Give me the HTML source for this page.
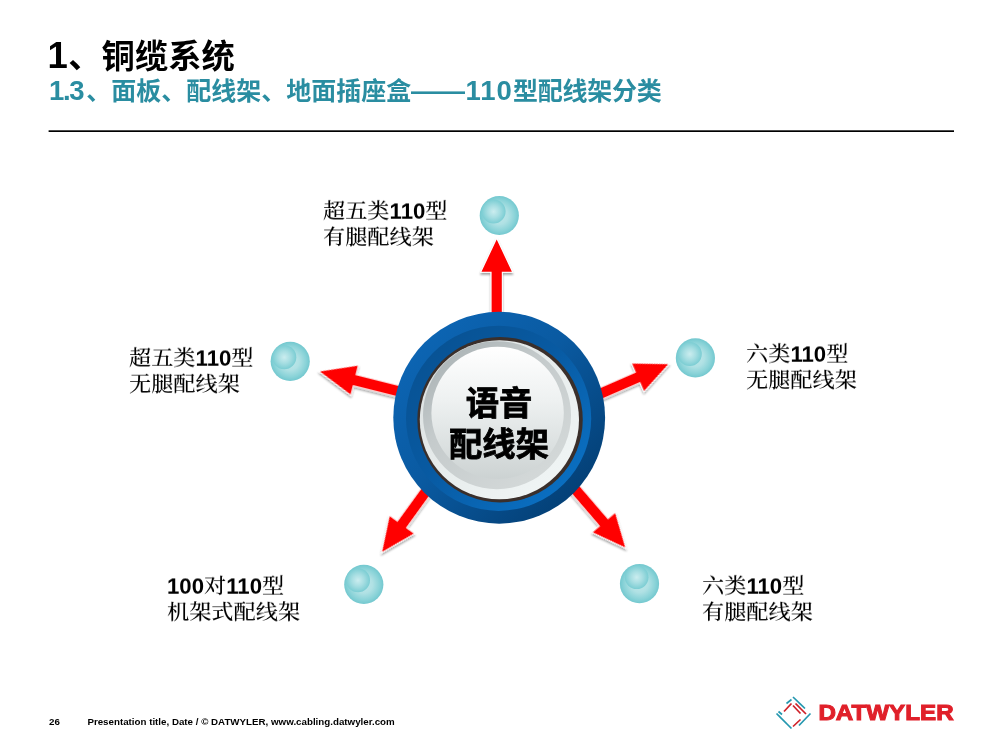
<!DOCTYPE html>
<html lang="zh-CN">
<head>
<meta charset="utf-8">
<title>1、铜缆系统</title>
<style>
html,body{margin:0;padding:0;background:#fff;}
body{width:1000px;height:750px;position:relative;overflow:hidden;font-family:"Liberation Sans","Noto Sans CJK SC",sans-serif;color:#000;}
.abs{position:absolute;white-space:nowrap;will-change:transform;}
#title{left:50px;top:32.2px;font-size:33.3px;line-height:48px;font-weight:bold;color:#000;}
#title .n{display:inline-block;font-size:36.5px;line-height:48px;width:20.7px;margin-left:-2.4px;}
#subtitle{left:48.6px;top:72.9px;font-size:25px;line-height:36px;font-weight:bold;color:#2a8da1;}
#subtitle .n{font-size:27.5px;letter-spacing:-1.4px;margin-right:3.2px;}
#subtitle .m{font-size:27.5px;letter-spacing:1.0px;margin-left:0.7px;}
#subtitle .e{letter-spacing:-0.25px;}
#subtitle .d{display:inline-block;transform:scaleX(1.08);transform-origin:0 50%;margin-right:3.6px;}
.lbl{font-family:"Liberation Sans","Noto Serif CJK SC",serif;font-weight:500;font-size:22.2px;line-height:29px;color:#000;transform:scaleY(0.9);transform-origin:0 0;}
.lbl b{font-family:"Liberation Sans",sans-serif;font-weight:bold;display:inline-block;position:relative;top:0.5px;transform:scaleY(1.111);transform-origin:0 76%;}
#center{left:399.3px;top:383.8px;width:200px;text-align:center;font-size:33.3px;line-height:40.5px;font-weight:bold;color:#000;-webkit-text-stroke:0.8px #000;}
#foot{left:48.5px;top:714.5px;font-size:9.76px;line-height:14px;font-weight:bold;color:#000;}
#foot span{display:inline-block;}
#gfx{position:absolute;left:0;top:0;}
</style>
</head>
<body>
<svg id="gfx" width="1000" height="750" viewBox="0 0 1000 750">
  <defs>
    <linearGradient id="gOuter" x1="0.15" y1="0.15" x2="0.85" y2="0.85">
      <stop offset="0" stop-color="#0c64b2"/>
      <stop offset="0.45" stop-color="#0a5aa1"/>
      <stop offset="1" stop-color="#044178"/>
    </linearGradient>
    <linearGradient id="gMid" x1="0.15" y1="0.15" x2="0.85" y2="0.85">
      <stop offset="0" stop-color="#085395"/>
      <stop offset="0.45" stop-color="#085aa2"/>
      <stop offset="1" stop-color="#0a6ec0"/>
    </linearGradient>
    <linearGradient id="gRim" x1="0.15" y1="0.15" x2="0.85" y2="0.85">
      <stop offset="0" stop-color="#dde2e2"/>
      <stop offset="0.5" stop-color="#e8eded"/>
      <stop offset="1" stop-color="#eff4f4"/>
    </linearGradient>
    <linearGradient id="gGrey" x1="0.2" y1="0.1" x2="0.8" y2="0.9">
      <stop offset="0" stop-color="#afb7b9"/>
      <stop offset="0.35" stop-color="#c4cacb"/>
      <stop offset="1" stop-color="#d3d8d8"/>
    </linearGradient>
    <linearGradient id="gFace" x1="0.5" y1="0" x2="0.5" y2="1">
      <stop offset="0" stop-color="#ffffff"/>
      <stop offset="0.4" stop-color="#eef1f1"/>
      <stop offset="0.75" stop-color="#dbe0e0"/>
      <stop offset="1" stop-color="#ccd2d2"/>
    </linearGradient>
    <radialGradient id="gBub" cx="0.5" cy="0.5" r="0.5">
      <stop offset="0" stop-color="#c0e8ea"/>
      <stop offset="0.45" stop-color="#b0e1e4"/>
      <stop offset="0.8" stop-color="#8ad3d8"/>
      <stop offset="1" stop-color="#73c8cf"/>
    </radialGradient>
    <radialGradient id="gBubIn" cx="0.5" cy="0.5" r="0.5">
      <stop offset="0" stop-color="#cbedef"/>
      <stop offset="0.5" stop-color="#a7dee2"/>
      <stop offset="1" stop-color="#7bcdd3"/>
    </radialGradient>
    <filter id="sh" x="-30%" y="-30%" width="160%" height="160%">
      <feGaussianBlur in="SourceAlpha" stdDeviation="1.2"/>
      <feOffset dx="0" dy="1.5" result="o"/>
      <feComponentTransfer><feFuncA type="linear" slope="0.38"/></feComponentTransfer>
      <feMerge><feMergeNode/><feMergeNode in="SourceGraphic"/></feMerge>
    </filter>
  </defs>

  <!-- rule -->
  <rect x="48.6" y="130.3" width="905.4" height="1.7" fill="#000"/>

  <!-- arrows -->
  <g filter="url(#sh)" fill="#ff0000" stroke="#ffffff" stroke-width="2" paint-order="stroke" stroke-linejoin="miter">
    <path d="M0,0 L15.2,32.4 L5.1,32.4 L5.1,84 L-5.1,84 L-5.1,32.4 L-15.2,32.4 Z" transform="translate(496.7,239.4) rotate(0)"/>
    <path d="M0,0 L14.8,35.3 L5.2,35.3 L5.2,88 L-5.2,88 L-5.2,35.3 L-14.8,35.3 Z" transform="translate(320,371.5) rotate(-75.9)"/>
    <path d="M0,0 L14.9,32.7 L5.2,32.7 L5.2,84 L-5.2,84 L-5.2,32.7 L-14.9,32.7 Z" transform="translate(668.2,364.2) rotate(66.5)"/>
    <path d="M0,0 L14.8,33.3 L5.2,33.3 L5.2,84 L-5.2,84 L-5.2,33.3 L-14.8,33.3 Z" transform="translate(382.2,551.8) rotate(-144.1)"/>
    <path d="M0,0 L14.7,32.6 L5.2,32.6 L5.2,84 L-5.2,84 L-5.2,32.6 L-14.7,32.6 Z" transform="translate(625.2,547.4) rotate(139.3)"/>
  </g>

  <!-- centre button -->
  <circle cx="499.2" cy="417.75" r="105.9" fill="url(#gOuter)"/>
  <circle cx="498.6" cy="418.3" r="92.6" fill="url(#gMid)"/>
  <circle cx="500.05" cy="419.7" r="82.7" fill="#3a2f2b"/>
  <circle cx="499.4" cy="419.75" r="79.6" fill="url(#gRim)"/>
  <circle cx="497" cy="415.2" r="74" fill="url(#gGrey)"/>
  <circle cx="497.6" cy="412.9" r="66.2" fill="url(#gFace)"/>

  <!-- bubbles -->
  <g>
    <circle cx="499.3" cy="215.5" r="19.6" fill="url(#gBub)"/>
    <circle cx="493.6" cy="211.6" r="12" fill="url(#gBubIn)"/>
    <circle cx="290.2" cy="361.3" r="19.6" fill="url(#gBub)"/>
    <circle cx="284.3" cy="357.3" r="12" fill="url(#gBubIn)"/>
    <circle cx="695.4" cy="357.9" r="19.6" fill="url(#gBub)"/>
    <circle cx="689.8" cy="354" r="12" fill="url(#gBubIn)"/>
    <circle cx="363.8" cy="584.4" r="19.6" fill="url(#gBub)"/>
    <circle cx="358" cy="580.3" r="12" fill="url(#gBubIn)"/>
    <circle cx="639.5" cy="583.7" r="19.6" fill="url(#gBub)"/>
    <circle cx="636.7" cy="577.3" r="11.8" fill="url(#gBubIn)"/>
  </g>

  <!-- logo -->
  <g fill="none" stroke-width="1.7" stroke-linecap="butt">
    <g stroke="#2497af">
      <path d="M793,697 L805,708.5"/>
      <path d="M786.5,703.5 L791.5,699.5"/>
      <path d="M778.5,711.5 L782,714.5"/>
      <path d="M776.5,713.5 L791.5,728.5"/>
      <path d="M799,725.5 L810.5,713.5"/>
    </g>
    <g stroke="#cf2028">
      <path d="M784,711.5 L791.5,703.5"/>
      <path d="M793,705.5 L800.5,713.5"/>
      <path d="M795.5,703.5 L806,714"/>
      <path d="M793,726.5 L800.5,719.5"/>
    </g>
  </g>
  <text x="818.4" y="720.4" font-family="'Liberation Sans',sans-serif" font-weight="bold" font-size="21.6" fill="#e0202a" stroke="#e0202a" stroke-width="1" stroke-linejoin="miter" textLength="135.2" lengthAdjust="spacingAndGlyphs">DATWYLER</text>
</svg>

<div id="title" class="abs"><span class="n">1</span>、铜缆系统</div>
<div id="subtitle" class="abs"><span class="n">1.3</span>、面板、配线架、地面插座盒<span class="d">——</span><span class="m">110</span><span class="e">型配线架分类</span></div>

<div class="abs lbl" style="left:323px;top:197.5px;">超五类<b>110</b>型<br>有腿配线架</div>
<div class="abs lbl" style="left:129px;top:344.5px;">超五类<b>110</b>型<br>无腿配线架</div>
<div class="abs lbl" style="left:746px;top:341px;">六类<b>110</b>型<br>无腿配线架</div>
<div class="abs lbl" style="left:167px;top:572.5px;"><b>100</b>对<b>110</b>型<br>机架式配线架</div>
<div class="abs lbl" style="left:702px;top:572.5px;">六类<b>110</b>型<br>有腿配线架</div>

<div id="center" class="abs">语音<br>配线架</div>

<div id="foot" class="abs"><span style="width:38.4px">26</span>Presentation title, Date / © DATWYLER, www.cabling.datwyler.com</div>

</body>
</html>
